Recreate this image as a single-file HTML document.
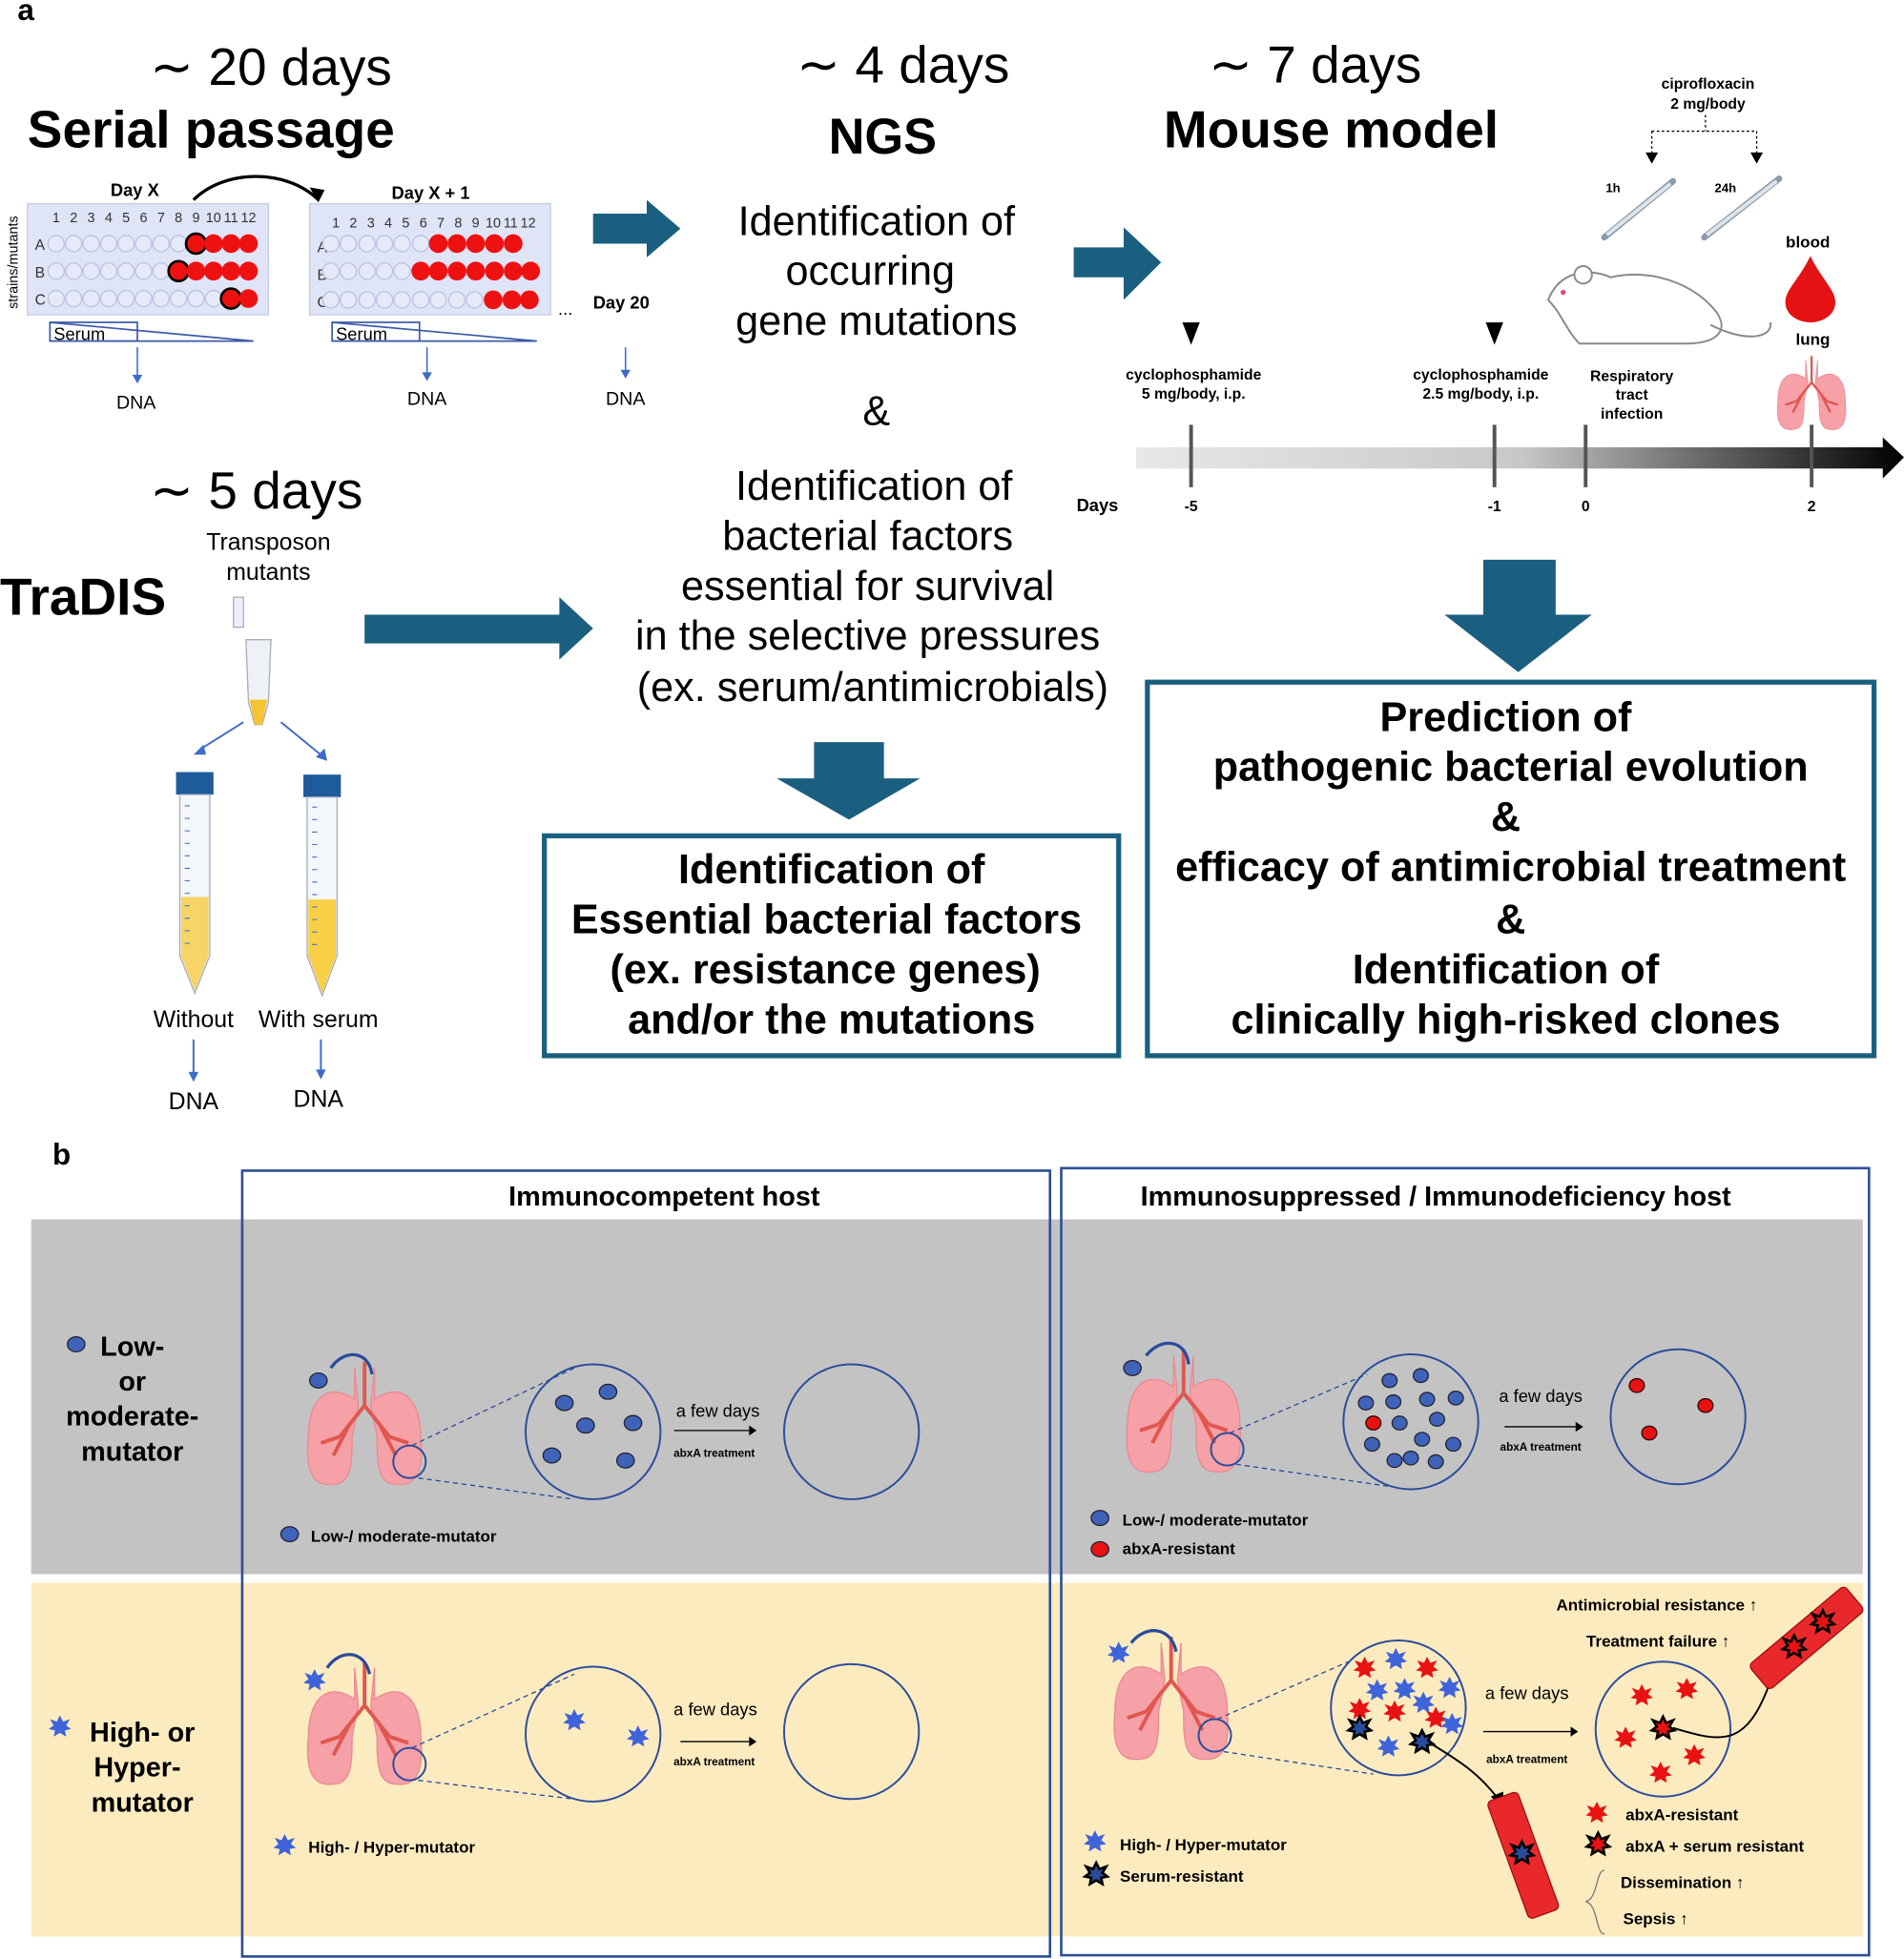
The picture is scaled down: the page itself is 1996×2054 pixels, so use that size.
<!DOCTYPE html>
<html><head><meta charset="utf-8"><style>html,body{margin:0;padding:0;background:#fff}svg{display:block}</style></head>
<body>
<svg width="1996" height="2054" viewBox="0 0 1525 1568" preserveAspectRatio="none" xmlns="http://www.w3.org/2000/svg" font-family="Liberation Sans, Arial, sans-serif">
<defs>
<polygon id="star" points="0,-9 2.5,-4 8,-6 5,-1 9,2 4,3 5,8 0,5 -5,8 -4,3 -9,2 -5,-1 -8,-6 -2.5,-4" />
<g id="lung">
 <path d="M-8,-45 L-8,-20 C-30,-35 -45,-20 -45,10 C-48,40 -40,50 -25,48 C-10,48 -10,30 -10,10 L-5,-15 Z" fill="#f6a0a8" stroke="#e88a92"/>
 <path d="M8,-45 L8,-20 C30,-35 45,-20 45,10 C48,40 40,50 25,48 C10,48 10,30 10,10 L5,-15 Z" fill="#f6a0a8" stroke="#e88a92"/>
 <path d="M0,-50 L0,-15 M0,-15 L-20,10 M0,-15 L20,10 M-12,0 L-25,25 M12,0 L25,25 M-20,10 L-35,15 M20,10 L35,15" stroke="#e0574f" stroke-width="3" fill="none"/>
</g>
<g id="plate">
 <rect x="0" y="0" width="193" height="89" fill="#dfe4f6" stroke="#c4cbe6"/>
</g>
</defs>
<rect width="1525" height="1568" fill="#fff"/>
<text x="14" y="16" font-size="24" font-weight="bold">a</text>

<text x="120" y="68" font-size="42">∼ 20 days</text>
<text x="22" y="118" font-size="42" font-weight="bold">Serial passage</text>
<text x="14" y="210" font-size="11" transform="rotate(-90 14 210)" text-anchor="middle">strains/mutants</text>
<text x="108" y="157" font-size="14" font-weight="bold" text-anchor="middle">Day X</text>
<text x="345" y="159" font-size="14" font-weight="bold" text-anchor="middle">Day X + 1</text>
<path d="M155,160 C180,135 230,135 255,160" fill="none" stroke="#000" stroke-width="2.5"/>
<polygon points="255,162 248,150 260,152" fill="#000"/>
<g transform="translate(22,163)"><use href="#plate"/></g>
<g transform="translate(248,163)"><use href="#plate"/></g>
<g font-size="12" fill="#333">
<text x="28" y="200">A</text><text x="28" y="222">B</text><text x="28" y="244">C</text>
<text x="254" y="202">A</text><text x="254" y="224">B</text><text x="254" y="246">C</text>
</g>
<g font-size="11" fill="#333" text-anchor="middle">
<text x="45" y="178">1</text><text x="59" y="178">2</text><text x="73" y="178">3</text><text x="87" y="178">4</text><text x="101" y="178">5</text><text x="115" y="178">6</text><text x="129" y="178">7</text><text x="143" y="178">8</text><text x="157" y="178">9</text><text x="171" y="178">10</text><text x="185" y="178">11</text><text x="199" y="178">12</text>
<text x="269" y="182">1</text><text x="283" y="182">2</text><text x="297" y="182">3</text><text x="311" y="182">4</text><text x="325" y="182">5</text><text x="339" y="182">6</text><text x="353" y="182">7</text><text x="367" y="182">8</text><text x="381" y="182">9</text><text x="395" y="182">10</text><text x="409" y="182">11</text><text x="423" y="182">12</text>
</g>
<g stroke="#b9c2e0" fill="#e6eaf8">
<circle cx="45" cy="195" r="6.5"/><circle cx="59" cy="195" r="6.5"/><circle cx="73" cy="195" r="6.5"/><circle cx="87" cy="195" r="6.5"/><circle cx="101" cy="195" r="6.5"/><circle cx="115" cy="195" r="6.5"/><circle cx="129" cy="195" r="6.5"/><circle cx="143" cy="195" r="6.5"/>
<circle cx="45" cy="217" r="6.5"/><circle cx="59" cy="217" r="6.5"/><circle cx="73" cy="217" r="6.5"/><circle cx="87" cy="217" r="6.5"/><circle cx="101" cy="217" r="6.5"/><circle cx="115" cy="217" r="6.5"/><circle cx="129" cy="217" r="6.5"/>
<circle cx="45" cy="239" r="6.5"/><circle cx="59" cy="239" r="6.5"/><circle cx="73" cy="239" r="6.5"/><circle cx="87" cy="239" r="6.5"/><circle cx="101" cy="239" r="6.5"/><circle cx="115" cy="239" r="6.5"/><circle cx="129" cy="239" r="6.5"/><circle cx="143" cy="239" r="6.5"/><circle cx="157" cy="239" r="6.5"/><circle cx="171" cy="239" r="6.5"/>
<circle cx="265" cy="195" r="6.5"/><circle cx="279" cy="195" r="6.5"/><circle cx="294" cy="195" r="6.5"/><circle cx="308" cy="195" r="6.5"/><circle cx="322" cy="195" r="6.5"/><circle cx="337" cy="195" r="6.5"/>
<circle cx="265" cy="217" r="6.5"/><circle cx="279" cy="217" r="6.5"/><circle cx="294" cy="217" r="6.5"/><circle cx="308" cy="217" r="6.5"/><circle cx="322" cy="217" r="6.5"/>
<circle cx="265" cy="240" r="6.5"/><circle cx="279" cy="240" r="6.5"/><circle cx="294" cy="240" r="6.5"/><circle cx="308" cy="240" r="6.5"/><circle cx="322" cy="240" r="6.5"/><circle cx="337" cy="240" r="6.5"/><circle cx="351" cy="240" r="6.5"/><circle cx="366" cy="240" r="6.5"/><circle cx="380" cy="240" r="6.5"/>
</g>
<g fill="#ee1111">
<circle cx="157" cy="195" r="8" stroke="#000" stroke-width="2"/><circle cx="171" cy="195" r="7.5"/><circle cx="185" cy="195" r="7.5"/><circle cx="199" cy="195" r="7.5"/>
<circle cx="143" cy="217" r="8" stroke="#000" stroke-width="2"/><circle cx="157" cy="217" r="7.5"/><circle cx="171" cy="217" r="7.5"/><circle cx="185" cy="217" r="7.5"/><circle cx="199" cy="217" r="7.5"/>
<circle cx="185" cy="239" r="8" stroke="#000" stroke-width="2"/><circle cx="199" cy="239" r="7.5"/>
<circle cx="351" cy="195" r="7.5"/><circle cx="366" cy="195" r="7.5"/><circle cx="381" cy="195" r="7.5"/><circle cx="396" cy="195" r="7.5"/><circle cx="411" cy="195" r="7.5"/>
<circle cx="337" cy="217" r="7.5"/><circle cx="351" cy="217" r="7.5"/><circle cx="366" cy="217" r="7.5"/><circle cx="381" cy="217" r="7.5"/><circle cx="396" cy="217" r="7.5"/><circle cx="411" cy="217" r="7.5"/><circle cx="425" cy="217" r="7.5"/>
<circle cx="395" cy="240" r="7.5"/><circle cx="410" cy="240" r="7.5"/><circle cx="424" cy="240" r="7.5"/>
</g>
<g fill="none" stroke="#3b5aa8" stroke-width="1.3">
<rect x="40" y="258" width="70" height="15"/><path d="M40,258 L203,273 L40,273"/>
<rect x="266" y="258" width="70" height="15"/><path d="M266,258 L430,273 L266,273"/>
</g>
<text x="43" y="272" font-size="14">Serum</text>
<text x="269" y="272" font-size="14">Serum</text>
<text x="447" y="252" font-size="14">...</text>
<text x="475" y="247" font-size="14" font-weight="bold">Day 20</text>
<g stroke="#3f6cc8" stroke-width="1.2"><path d="M110,278 V302"/><path d="M342,278 V300"/><path d="M501,278 V298"/></g>
<g fill="#3f6cc8"><polygon points="106,300 114,300 110,307"/><polygon points="338,298 346,298 342,305"/><polygon points="497,296 505,296 501,303"/></g>
<g font-size="15" text-anchor="middle"><text x="109" y="327">DNA</text><text x="342" y="324">DNA</text><text x="501" y="324">DNA</text></g>

<g fill="#1b5f80">
<polygon points="475,171 518,171 518,160 545,183 518,206 518,195 475,195"/>
<polygon points="860,198 900,198 900,182 930,210 900,240 900,222 860,222"/>
<polygon points="292,492 448,492 448,478 475,503 448,528 448,515 292,515"/>
<polygon points="1188,448 1246,448 1246,492 1275,492 1216,538 1157,492 1188,492"/>
<polygon points="652,594 708,594 708,623 737,623 680,656 622,623 652,623"/>
</g>

<text x="638" y="66" font-size="42">∼ 4 days</text>
<text x="707" y="123" font-size="40" font-weight="bold" text-anchor="middle">NGS</text>
<g font-size="33" text-anchor="middle">
<text x="702" y="188">Identification of</text>
<text x="697" y="228">occurring</text>
<text x="702" y="268">gene mutations</text>
<text x="702" y="340">&amp;</text>
<text x="700" y="400">Identification of</text>
<text x="695" y="440">bacterial factors</text>
<text x="695" y="480">essential for survival</text>
<text x="695" y="520">in the selective pressures</text>
<text x="699" y="561">(ex. serum/antimicrobials)</text>
</g>

<text x="968" y="66" font-size="42">∼ 7 days</text>
<text x="932" y="118" font-size="42" font-weight="bold">Mouse model</text>
<text x="1368" y="71" font-size="12" font-weight="bold" text-anchor="middle">ciprofloxacin</text>
<text x="1368" y="87" font-size="12" font-weight="bold" text-anchor="middle">2 mg/body</text>
<path d="M1366,92 V105 M1323,105 H1407 M1323,105 V125 M1407,105 V125" stroke="#000" stroke-dasharray="2,2" fill="none"/>
<polygon points="1318,122 1328,122 1323,131" fill="#000"/><polygon points="1402,122 1412,122 1407,131" fill="#000"/>
<text x="1292" y="154" font-size="10" font-weight="bold" text-anchor="middle">1h</text>
<text x="1382" y="154" font-size="10" font-weight="bold" text-anchor="middle">24h</text>
<g stroke="#8a9aaa" stroke-width="5" stroke-linecap="round"><path d="M1285,190 L1340,145"/><path d="M1365,190 L1425,143"/></g>
<g stroke="#dde4ea" stroke-width="3"><path d="M1287,188 L1338,147"/><path d="M1367,188 L1423,145"/></g>
<g fill="#fff" stroke="#8a8a8a" stroke-width="1.5">
<path d="M1240,240 C1250,215 1275,215 1290,222 C1320,215 1355,225 1375,250 C1385,265 1375,275 1350,275 L1265,275 C1255,265 1250,250 1240,240 Z"/>
<path d="M1370,260 C1400,275 1420,270 1418,258" fill="none"/>
<circle cx="1268" cy="220" r="7"/>
</g>
<circle cx="1252" cy="234" r="2" fill="#e0407a"/>
<text x="1448" y="198" font-size="13" font-weight="bold" text-anchor="middle">blood</text>
<path d="M1450,205 C1440,225 1430,232 1430,242 C1430,252 1440,258 1450,258 C1460,258 1470,252 1470,242 C1470,232 1460,225 1450,205 Z" fill="#e41212"/>
<text x="1452" y="276" font-size="13" font-weight="bold" text-anchor="middle">lung</text>
<g transform="translate(1451,315) scale(0.6)"><use href="#lung"/></g>
<g font-size="12" font-weight="bold" text-anchor="middle">
<text x="956" y="304">cyclophosphamide</text><text x="956" y="319">5 mg/body, i.p.</text>
<text x="1186" y="304">cyclophosphamide</text><text x="1186" y="319">2.5 mg/body, i.p.</text>
<text x="1307" y="305">Respiratory</text><text x="1307" y="320">tract</text><text x="1307" y="335">infection</text>
</g>
<polygon points="947,258 961,258 954,276" fill="#000"/><polygon points="1190,258 1204,258 1197,276" fill="#000"/>
<linearGradient id="tl" x1="0" x2="1"><stop offset="0" stop-color="#e8e8e8"/><stop offset="0.5" stop-color="#c8c8c8"/><stop offset="1" stop-color="#000"/></linearGradient>
<polygon points="910,358 1508,358 1508,350 1525,366 1508,383 1508,375 910,375" fill="url(#tl)"/>
<g stroke="#555" stroke-width="3"><path d="M954,340 V390"/><path d="M1197,340 V390"/><path d="M1270,340 V390"/><path d="M1451,340 V390"/></g>
<g font-size="12" font-weight="bold" text-anchor="middle">
<text x="879" y="409" font-size="14">Days</text><text x="954" y="409">-5</text><text x="1197" y="409">-1</text><text x="1270" y="409">0</text><text x="1451" y="409">2</text>
</g>

<rect x="919" y="546" width="582" height="299" fill="none" stroke="#1b5f80" stroke-width="4"/>
<g font-size="33" font-weight="bold" text-anchor="middle">
<text x="1206" y="585">Prediction of</text>
<text x="1210" y="625">pathogenic bacterial evolution</text>
<text x="1206" y="665">&amp;</text>
<text x="1210" y="705">efficacy of antimicrobial treatment</text>
<text x="1210" y="747">&amp;</text>
<text x="1206" y="787">Identification of</text>
<text x="1206" y="827">clinically high-risked clones</text>
</g>
<rect x="436" y="669" width="460" height="176" fill="none" stroke="#1b5f80" stroke-width="4"/>
<g font-size="33" font-weight="bold" text-anchor="middle">
<text x="666" y="707">Identification of</text>
<text x="662" y="747">Essential bacterial factors</text>
<text x="661" y="787">(ex. resistance genes)</text>
<text x="666" y="827">and/or the mutations</text>
</g>

<text x="120" y="407" font-size="42">∼ 5 days</text>
<text x="215" y="440" font-size="19" text-anchor="middle">Transposon</text>
<text x="215" y="464" font-size="19" text-anchor="middle">mutants</text>
<text x="0" y="492" font-size="42" font-weight="bold">TraDIS</text>
<path d="M197,512 L217,512 L215,562 L210,580 L204,580 L199,562 Z" fill="#eef2f6" stroke="#aab"/>
<path d="M200,560 L214,560 L210,580 L204,580 Z" fill="#f6c431"/>
<rect x="187" y="478" width="8" height="24" fill="#eef" stroke="#aab"/>
<g stroke="#3f6cc8" stroke-width="1.5"><path d="M195,578 L160,600"/><path d="M225,578 L258,605"/><path d="M155,832 V860"/><path d="M257,832 V858"/></g>
<g fill="#3f6cc8"><polygon points="155,604 163,596 165,604"/><polygon points="262,609 253,606 260,599"/><polygon points="151,858 159,858 155,866"/><polygon points="253,856 261,856 257,864"/></g>
<g>
<rect x="141" y="618" width="30" height="18" fill="#1e5b9a"/>
<path d="M144,636 L168,636 L168,765 L156,795 L144,765 Z" fill="#f3f6fa" stroke="#aab"/>
<path d="M145,718 L167,718 L167,765 L156,793 L145,765 Z" fill="#f8d466"/>
<rect x="243" y="620" width="30" height="18" fill="#1e5b9a"/>
<path d="M246,638 L270,638 L270,765 L258,797 L246,765 Z" fill="#f3f6fa" stroke="#aab"/>
<path d="M247,720 L269,720 L269,765 L258,795 L247,765 Z" fill="#f8cf45"/>
<g stroke="#3f6cc8" stroke-width="0.8"><path d="M148,645 H152 M148,655 H152 M148,665 H152 M148,675 H152 M148,685 H152 M148,695 H152 M148,705 H152 M148,715 H152 M148,725 H152 M148,735 H152 M148,745 H152 M148,755 H152"/>
<path d="M250,646 H254 M250,656 H254 M250,666 H254 M250,676 H254 M250,686 H254 M250,696 H254 M250,706 H254 M250,716 H254 M250,726 H254 M250,736 H254 M250,746 H254 M250,756 H254"/></g>
</g>
<text x="155" y="822" font-size="19" text-anchor="middle">Without</text>
<text x="255" y="822" font-size="19" text-anchor="middle">With serum</text>
<text x="155" y="888" font-size="19" text-anchor="middle">DNA</text>
<text x="255" y="886" font-size="19" text-anchor="middle">DNA</text>

<text x="42" y="932" font-size="24" font-weight="bold">b</text>
<rect x="25" y="976" width="1467" height="284" fill="#c3c3c3"/>
<rect x="25" y="1267" width="1467" height="283" fill="#fdebc0"/>
<rect x="194" y="937" width="647" height="629" fill="none" stroke="#2e4f94" stroke-width="2"/>
<rect x="850" y="935" width="647" height="630" fill="none" stroke="#2e4f94" stroke-width="2"/>
<text x="532" y="965" font-size="22" font-weight="bold" text-anchor="middle">Immunocompetent host</text>
<text x="1150" y="965" font-size="22" font-weight="bold" text-anchor="middle">Immunosuppressed / Immunodeficiency host</text>

<g font-size="22" font-weight="bold" text-anchor="middle">
<text x="106" y="1085">Low-</text><text x="106" y="1113">or</text><text x="106" y="1141">moderate-</text><text x="106" y="1169">mutator</text>
<text x="114" y="1394">High- or</text><text x="110" y="1422">Hyper-</text><text x="114" y="1450">mutator</text>
</g>
<ellipse cx="61" cy="1076" rx="7" ry="6" fill="#3f63b8" stroke="#223"/>
<use href="#star" x="48" y="1382" fill="#3f63d8"/>

<use href="#lung" x="292" y="1140"/>
<ellipse cx="255" cy="1105" rx="7" ry="6" fill="#3f63b8" stroke="#223"/>
<path d="M265,1095 C275,1080 295,1080 298,1100" fill="none" stroke="#2a4c9a" stroke-width="2.5"/>
<circle cx="328" cy="1170" r="13" fill="none" stroke="#2a4c9a" stroke-width="1.5"/>
<path d="M330,1157 L460,1095 M335,1183 L460,1200" stroke="#2a4c9a" stroke-dasharray="4,3"/>
<circle cx="475" cy="1146" r="54" fill="none" stroke="#2a4c9a" stroke-width="1.5"/>
<g fill="#3f63b8" stroke="#223"><ellipse cx="452" cy="1123" rx="7" ry="6"/><ellipse cx="487" cy="1114" rx="7" ry="6"/><ellipse cx="469" cy="1141" rx="7" ry="6"/><ellipse cx="507" cy="1139" rx="7" ry="6"/><ellipse cx="442" cy="1165" rx="7" ry="6"/><ellipse cx="501" cy="1169" rx="7" ry="6"/></g>
<text x="575" y="1134" font-size="14" text-anchor="middle">a few days</text>
<path d="M540,1145 H600" stroke="#000"/><polygon points="600,1141 606,1145 600,1149"/>
<text x="572" y="1166" font-size="9" font-weight="bold" text-anchor="middle">abxA treatment</text>
<circle cx="682" cy="1146" r="54" fill="none" stroke="#2a4c9a" stroke-width="1.5"/>
<ellipse cx="232" cy="1228" rx="7" ry="6" fill="#3f63b8" stroke="#223"/>
<text x="249" y="1234" font-size="13" font-weight="bold">Low-/ moderate-mutator</text>

<use href="#lung" x="292" y="1380"/>
<use href="#star" x="252" y="1345" fill="#3f63d8"/>
<path d="M262,1335 C272,1320 292,1320 296,1340" fill="none" stroke="#2a4c9a" stroke-width="2.5"/>
<circle cx="328" cy="1412" r="13" fill="none" stroke="#2a4c9a" stroke-width="1.5"/>
<path d="M330,1399 L460,1340 M335,1425 L460,1440" stroke="#2a4c9a" stroke-dasharray="4,3"/>
<circle cx="475" cy="1388" r="54" fill="none" stroke="#2a4c9a" stroke-width="1.5"/>
<use href="#star" x="460" y="1377" fill="#3f63d8"/><use href="#star" x="511" y="1390" fill="#3f63d8"/>
<text x="573" y="1373" font-size="14" text-anchor="middle">a few days</text>
<path d="M545,1394 H600" stroke="#000"/><polygon points="600,1390 606,1394 600,1398"/>
<text x="572" y="1413" font-size="9" font-weight="bold" text-anchor="middle">abxA treatment</text>
<circle cx="682" cy="1386" r="54" fill="none" stroke="#2a4c9a" stroke-width="1.5"/>
<use href="#star" x="228" y="1477" fill="#3f63d8"/>
<text x="247" y="1483" font-size="13" font-weight="bold">High- / Hyper-mutator</text>

<use href="#lung" x="948" y="1130"/>
<ellipse cx="907" cy="1095" rx="7" ry="6" fill="#3f63b8" stroke="#223"/>
<path d="M918,1085 C930,1070 950,1072 952,1092" fill="none" stroke="#2a4c9a" stroke-width="2.5"/>
<circle cx="983" cy="1160" r="13" fill="none" stroke="#2a4c9a" stroke-width="1.5"/>
<path d="M985,1147 L1095,1100 M990,1172 L1115,1190" stroke="#2a4c9a" stroke-dasharray="4,3"/>
<circle cx="1130" cy="1138" r="54" fill="none" stroke="#2a4c9a" stroke-width="1.5"/>
<g fill="#3f63b8" stroke="#223">
<ellipse cx="1113" cy="1105" rx="6" ry="5.5"/><ellipse cx="1138" cy="1101" rx="6" ry="5.5"/><ellipse cx="1094" cy="1123" rx="6" ry="5.5"/><ellipse cx="1116" cy="1122" rx="6" ry="5.5"/><ellipse cx="1143" cy="1120" rx="6" ry="5.5"/><ellipse cx="1166" cy="1119" rx="6" ry="5.5"/>
<ellipse cx="1121" cy="1139" rx="6" ry="5.5"/><ellipse cx="1151" cy="1136" rx="6" ry="5.5"/><ellipse cx="1099" cy="1156" rx="6" ry="5.5"/><ellipse cx="1139" cy="1152" rx="6" ry="5.5"/><ellipse cx="1164" cy="1156" rx="6" ry="5.5"/><ellipse cx="1117" cy="1169" rx="6" ry="5.5"/><ellipse cx="1150" cy="1170" rx="6" ry="5.5"/><ellipse cx="1130" cy="1167" rx="6" ry="5.5"/></g>
<ellipse cx="1100" cy="1139" rx="6" ry="5.5" fill="#e81212" stroke="#300"/>
<text x="1234" y="1122" font-size="14" text-anchor="middle">a few days</text>
<path d="M1205,1142 H1262" stroke="#000"/><polygon points="1262,1138 1268,1142 1262,1146"/>
<text x="1234" y="1161" font-size="9" font-weight="bold" text-anchor="middle">abxA treatment</text>
<circle cx="1344" cy="1134" r="54" fill="none" stroke="#2a4c9a" stroke-width="1.5"/>
<g fill="#e81212" stroke="#300"><ellipse cx="1311" cy="1109" rx="6" ry="5.5"/><ellipse cx="1366" cy="1125" rx="6" ry="5.5"/><ellipse cx="1321" cy="1147" rx="6" ry="5.5"/></g>
<ellipse cx="881" cy="1215" rx="7" ry="6" fill="#3f63b8" stroke="#223"/>
<ellipse cx="881" cy="1240" rx="7" ry="6" fill="#e81212" stroke="#223"/>
<text x="899" y="1221" font-size="13" font-weight="bold">Low-/ moderate-mutator</text>
<text x="899" y="1244" font-size="13" font-weight="bold">abxA-resistant</text>

<use href="#lung" x="938" y="1360"/>
<use href="#star" x="896" y="1323" fill="#3f63d8"/>
<path d="M906,1315 C918,1300 938,1302 942,1322" fill="none" stroke="#2a4c9a" stroke-width="2.5"/>
<circle cx="973" cy="1389" r="13" fill="none" stroke="#2a4c9a" stroke-width="1.5"/>
<path d="M975,1376 L1080,1330 M980,1402 L1100,1420" stroke="#2a4c9a" stroke-dasharray="4,3"/>
<circle cx="1120" cy="1367" r="54" fill="none" stroke="#2a4c9a" stroke-width="1.5"/>
<g fill="#e81212"><use href="#star" x="1093" y="1335"/><use href="#star" x="1143" y="1335"/><use href="#star" x="1089" y="1368"/><use href="#star" x="1117" y="1370"/><use href="#star" x="1150" y="1375"/></g>
<g fill="#3f63d8"><use href="#star" x="1118" y="1328"/><use href="#star" x="1103" y="1353"/><use href="#star" x="1125" y="1352"/><use href="#star" x="1161" y="1351"/><use href="#star" x="1140" y="1363"/><use href="#star" x="1112" y="1398"/><use href="#star" x="1163" y="1380"/></g>
<g fill="#2a4c9a" stroke="#000" stroke-width="2"><use href="#star" x="1089" y="1383"/><use href="#star" x="1139" y="1394"/></g>
<text x="1223" y="1360" font-size="14" text-anchor="middle">a few days</text>
<path d="M1188,1386 H1258" stroke="#000"/><polygon points="1258,1382 1264,1386 1258,1390"/>
<text x="1223" y="1411" font-size="9" font-weight="bold" text-anchor="middle">abxA treatment</text>
<circle cx="1332" cy="1384" r="54" fill="none" stroke="#2a4c9a" stroke-width="1.5"/>
<g fill="#e81212"><use href="#star" x="1315" y="1357"/><use href="#star" x="1351" y="1352"/><use href="#star" x="1302" y="1391"/><use href="#star" x="1357" y="1405"/><use href="#star" x="1330" y="1419"/></g>
<use href="#star" x="1332" y="1383" fill="#e81212" stroke="#000" stroke-width="2"/>
<path d="M1340,1383 C1380,1395 1400,1400 1420,1340" fill="none" stroke="#000" stroke-width="1.5"/>
<polygon points="1416,1342 1424,1328 1426,1344"/>
<path d="M1145,1395 C1170,1410 1185,1420 1200,1440" fill="none" stroke="#000" stroke-width="1.5"/>
<polygon points="1194,1438 1204,1448 1204,1434"/>
<g transform="rotate(-40 1447 1311)"><rect x="1397" y="1298" width="100" height="26" rx="4" fill="#e8282a" stroke="#a01010"/></g>
<use href="#star" x="1437" y="1318" fill="#e81212" stroke="#000" stroke-width="2"/><use href="#star" x="1460" y="1298" fill="#e81212" stroke="#000" stroke-width="2"/>
<g transform="rotate(70 1220 1485)"><rect x="1170" y="1472" width="100" height="26" rx="4" fill="#e8282a" stroke="#a01010"/></g>
<use href="#star" x="1219" y="1483" fill="#2a4c9a" stroke="#000" stroke-width="2"/>
<text x="1327" y="1289" font-size="13" font-weight="bold" text-anchor="middle">Antimicrobial resistance ↑</text>
<text x="1328" y="1318" font-size="13" font-weight="bold" text-anchor="middle">Treatment failure ↑</text>
<use href="#star" x="1279" y="1451" fill="#e81212"/>
<use href="#star" x="1280" y="1476" fill="#e81212" stroke="#000" stroke-width="2"/>
<text x="1302" y="1457" font-size="13" font-weight="bold">abxA-resistant</text>
<text x="1302" y="1482" font-size="13" font-weight="bold">abxA + serum resistant</text>
<path d="M1285,1497 C1278,1497 1280,1520 1270,1522 C1280,1524 1278,1548 1285,1548" fill="none" stroke="#777"/>
<text x="1298" y="1511" font-size="13" font-weight="bold">Dissemination ↑</text>
<text x="1300" y="1540" font-size="13" font-weight="bold">Sepsis ↑</text>
<use href="#star" x="877" y="1474" fill="#3f63d8"/>
<use href="#star" x="878" y="1500" fill="#2a4c9a" stroke="#000" stroke-width="2"/>
<text x="897" y="1481" font-size="13" font-weight="bold">High- / Hyper-mutator</text>
<text x="897" y="1506" font-size="13" font-weight="bold">Serum-resistant</text>
</svg>
</body></html>
